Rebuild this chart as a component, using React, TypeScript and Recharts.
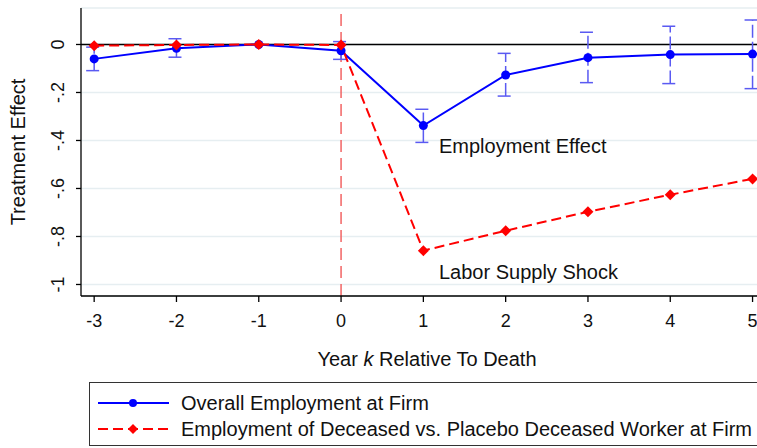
import React from 'react';
import {
  ComposedChart,
  Line,
  XAxis,
  YAxis,
  CartesianGrid,
  ReferenceLine,
  ReferenceDot,
  ErrorBar,
} from 'recharts';

// years relative to death
const years = [-3, -2, -1, 0, 1, 2, 3, 4, 5];
// overall employment at firm (point estimate + 95% CI)
const overall = [-0.06, -0.016, 0, -0.026, -0.338, -0.127, -0.055, -0.042, -0.04];
const overallLo = [-0.109, -0.053, 0, -0.062, -0.408, -0.215, -0.159, -0.163, -0.184];
const overallHi = [-0.011, 0.024, 0, 0.012, -0.27, -0.037, 0.051, 0.076, 0.102];
// employment of deceased vs placebo deceased worker
const deceased = [-0.005, -0.002, 0, -0.002, -0.859, -0.776, -0.697, -0.626, -0.56];

const xTicks = [-3, -2, -1, 0, 1, 2, 3, 4, 5];
const yTicks = [-1, -0.8, -0.6, -0.4, -0.2, 0];
const yTickLabels = ['-1', '-.8', '-.6', '-.4', '-.2', '0'];
const seriesNames = [
  'Overall Employment at Firm',
  'Employment of Deceased vs. Placebo Deceased Worker at Firm',
];
const notes = [
  { x: 1.19, y: -0.452, text: 'Employment Effect' },
  { x: 1.19, y: -0.977, text: 'Labor Supply Shock' },
];

const data = years.map((year, i) => ({
  year,
  overall: overall[i],
  overallErr: [overall[i] - overallLo[i], overallHi[i] - overall[i]],
  deceased: deceased[i],
}));

const FONT = '"Liberation Sans", Arial, Helvetica, sans-serif';
const BLUE = '#0000ff';
const RED = '#ff0000';

const Diamond = ({ cx, cy, s = 5.5 }: any) => {
  if (cx == null || cy == null) return null;
  return (
    <polygon
      points={`${cx},${cy - s} ${cx + s},${cy} ${cx},${cy + s} ${cx - s},${cy}`}
      fill={RED}
      stroke="none"
    />
  );
};

const XTick = ({ x, y, payload }: any) => (
  <text x={x} y={y + 23} textAnchor="middle" fontSize={18} fontFamily={FONT} fill="#111">
    {payload.value}
  </text>
);

const YTick = ({ x, y, payload }: any) => {
  const idx = yTicks.indexOf(payload.value);
  const bx = x - 10;
  return (
    <text
      x={bx}
      y={y}
      transform={`rotate(-90, ${bx}, ${y})`}
      textAnchor="middle"
      fontSize={18}
      fontFamily={FONT}
      fill="#111"
    >
      {idx >= 0 ? yTickLabels[idx] : payload.value}
    </text>
  );
};

export default function App() {
  return (
    <div style={{ position: 'absolute', left: 0, top: 0, width: 757, height: 448, overflow: 'hidden', background: '#fff' }}>
      <ComposedChart
        width={757}
        height={448}
        data={data}
        margin={{ top: 8, right: 0, bottom: 112, left: 0 }}
      >
        <CartesianGrid horizontal vertical={false} stroke="#e6eef1" strokeWidth={1.5} />
        <XAxis
          dataKey="year"
          type="number"
          domain={[-3.16, 5.054]}
          ticks={xTicks}
          allowDataOverflow
          height={40}
          tickSize={6}
          stroke="#000"
          strokeWidth={1.3}
          tick={<XTick />}
          label={{
            content: () => (
              <text x={427} y={366} textAnchor="middle" fontSize={20} fontFamily={FONT} fill="#111">
                Year <tspan fontStyle="italic">k</tspan> Relative To Death
              </text>
            ),
          }}
        />
        <YAxis
          type="number"
          domain={[-1.048, 0.152]}
          ticks={yTicks}
          allowDataOverflow
          width={81}
          tickSize={5}
          stroke="#000"
          strokeWidth={1.3}
          tick={<YTick />}
          label={{
            content: () => (
              <text
                x={25}
                y={152}
                transform="rotate(-90, 25, 152)"
                textAnchor="middle"
                fontSize={20}
                fontFamily={FONT}
                fill="#111"
              >
                Treatment Effect
              </text>
            ),
          }}
        />
        <ReferenceLine y={0} stroke="#000" strokeWidth={1.3} />
        <ReferenceLine x={0} stroke="#f26464" strokeWidth={1.5} strokeDasharray="12 6" />
        <Line
          dataKey="overall"
          name={seriesNames[0]}
          stroke={BLUE}
          strokeWidth={2}
          dot={{ r: 4.5, fill: BLUE, stroke: 'none' }}
          isAnimationActive={false}
        >
          <ErrorBar
            dataKey="overallErr"
            direction="y"
            width={8}
            stroke="#5a5af2"
            strokeWidth={1.5}
            strokeDasharray="13 4"
          />
        </Line>
        <Line
          dataKey="deceased"
          name={seriesNames[1]}
          stroke={RED}
          strokeWidth={2}
          strokeDasharray="10 5"
          dot={<Diamond />}
          isAnimationActive={false}
        />
        {notes.map((n) => (
          <ReferenceDot
            key={n.text}
            x={n.x}
            y={n.y}
            r={0}
            fill="none"
            stroke="none"
            label={{
              content: ({ viewBox }: any) => (
                <text x={viewBox.x} y={viewBox.y} fontSize={20} fontFamily={FONT} fill="#111">
                  {n.text}
                </text>
              ),
            }}
          />
        ))}
      </ComposedChart>
      <div
        style={{
          position: 'absolute',
          left: 89,
          top: 382,
          width: 700,
          height: 64,
          border: '1px solid #333',
          boxSizing: 'border-box',
        }}
      >
        <svg width={700} height={62} style={{ display: 'block' }}>
          <line x1={8} x2={79} y1={20} y2={20} stroke={BLUE} strokeWidth={2} />
          <circle cx={43} cy={20} r={4} fill={BLUE} />
          <text x={91} y={27} fontSize={20} fontFamily={FONT} fill="#111">
            {seriesNames[0]}
          </text>
          <line x1={8} x2={79} y1={46} y2={46} stroke={RED} strokeWidth={2} strokeDasharray="10 5" />
          <Diamond cx={43} cy={46} s={5} />
          <text x={91} y={53} fontSize={20} fontFamily={FONT} fill="#111">
            {seriesNames[1]}
          </text>
        </svg>
      </div>
    </div>
  );
}
